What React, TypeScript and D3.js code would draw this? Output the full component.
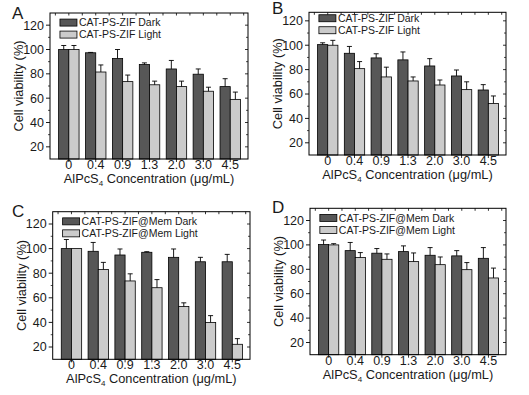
import React from "react";
import * as d3 from "d3";

const CATEGORIES = ["0", "0.4", "0.9", "1.3", "2.0", "3.0", "4.5"];
const Y_TICKS = [20, 40, 60, 80, 100, 120];
const Y_MINOR = [30, 50, 70, 90, 110];

const SERIES_AB = ["CAT-PS-ZIF Dark", "CAT-PS-ZIF Light"];
const SERIES_CD = ["CAT-PS-ZIF@Mem Dark", "CAT-PS-ZIF@Mem Light"];

const A_DARK = [100, 97.3, 92.6, 87.6, 84, 79.7, 69.5];
const A_DARK_ERR = [3.3, 0.3, 7.4, 1.4, 7, 4.3, 6.5];
const A_LIGHT = [100, 81.5, 73.6, 71, 69.5, 65.7, 59];
const A_LIGHT_ERR = [3.3, 5.8, 5.4, 3, 4.5, 3.3, 6];

const B_DARK = [100.5, 93.4, 89.6, 88, 83, 74.8, 63.3];
const B_DARK_ERR = [1.5, 5.6, 3.4, 6.5, 6, 4.9, 4.4];
const B_LIGHT = [100, 80.8, 74, 70.7, 67.4, 63.6, 52.3];
const B_LIGHT_ERR = [4, 5.8, 8, 3.3, 4.1, 6.4, 6.1];

const C_DARK = [100, 97.8, 94.8, 97, 92.9, 89.3, 89.3];
const C_DARK_ERR = [7.4, 7.2, 4.9, 0.5, 6.8, 3.6, 6];
const C_LIGHT = [100, 83, 73.7, 68.2, 52.9, 40, 22.2];
const C_LIGHT_ERR = [0, 5.8, 5.8, 6.6, 3, 5.5, 4.6];

const D_DARK = [100.3, 95.3, 93.2, 94.5, 91.5, 91, 89];
const D_DARK_ERR = [3.7, 6.7, 3.8, 4.7, 6.3, 4.3, 8.8];
const D_LIGHT = [100, 89.6, 88.2, 86.3, 83.8, 79.7, 72.9];
const D_LIGHT_ERR = [1, 4.1, 4.4, 7.1, 6.3, 5.8, 8.1];

const PANELS = [
  { letter: "A", lx: 12, ly: 18.5, left: 50, right: 248, top: 13, bottom: 159, yMax: 130, names: SERIES_AB, dark: A_DARK, darkErr: A_DARK_ERR, light: A_LIGHT, lightErr: A_LIGHT_ERR },
  { letter: "B", lx: 272, ly: 14, left: 309, right: 506, top: 12.3, bottom: 155, yMax: 127, names: SERIES_AB, dark: B_DARK, darkErr: B_DARK_ERR, light: B_LIGHT, lightErr: B_LIGHT_ERR },
  { letter: "C", lx: 12, ly: 216.5, left: 52.7, right: 250, top: 211.7, bottom: 359.3, yMax: 130, names: SERIES_CD, dark: C_DARK, darkErr: C_DARK_ERR, light: C_LIGHT, lightErr: C_LIGHT_ERR },
  { letter: "D", lx: 272, ly: 212.5, left: 310, right: 506, top: 208.3, bottom: 354.7, yMax: 130, names: SERIES_CD, dark: D_DARK, darkErr: D_DARK_ERR, light: D_LIGHT, lightErr: D_LIGHT_ERR },
];

const DARK_FILL = "#575757";
const LIGHT_FILL = "#cbcbcb";
const FONT = "'Liberation Sans', Arial, sans-serif";
const TXT = "#1a1a1a";

function Panel({ p }: { p: any }) {
  const x = d3.scaleLinear().domain([-0.7, 6.66]).range([p.left, p.right]);
  const y = d3.scaleLinear().domain([10, p.yMax]).range([p.bottom, p.top]);
  const step = x(1) - x(0);
  const bw = step * 0.38;
  const idx = d3.range(CATEGORIES.length);
  const halfTicks = d3.range(-0.5, 6.6, 0.5);
  const cy = (p.top + p.bottom) / 2;
  const cx = (p.left + p.right) / 2;

  const bars = (vals: number[], errs: number[], fill: string, offset: number) =>
    idx.map((i) => {
      const x0 = x(i) + offset;
      const xc = x0 + bw / 2;
      const top = y(vals[i]);
      const et = y(vals[i] + errs[i]);
      return (
        <g key={fill + i}>
          <rect x={x0} y={top} width={bw} height={p.bottom - top} fill={fill} stroke="#000" strokeWidth={0.8} />
          {errs[i] > 0 && (
            <g stroke="#000" strokeWidth={0.9}>
              <line x1={xc} x2={xc} y1={top} y2={et} />
              <line x1={xc - 2.5} x2={xc + 2.5} y1={et} y2={et} />
            </g>
          )}
        </g>
      );
    });

  const lgX = x(-0.33);
  const lgY = y(125);

  return (
    <g>
      <text x={p.lx} y={p.ly} fontSize={17} fontFamily={FONT} fill={TXT}>{p.letter}</text>
      {bars(p.dark, p.darkErr, DARK_FILL, -bw)}
      {bars(p.light, p.lightErr, LIGHT_FILL, 0)}
      <rect x={p.left} y={p.top} width={p.right - p.left} height={p.bottom - p.top} fill="none" stroke="#000" strokeWidth={1} />
      {Y_TICKS.map((t) => (
        <g key={"yt" + t}>
          <line x1={p.left - 4} x2={p.left} y1={y(t)} y2={y(t)} stroke="#000" strokeWidth={0.9} />
          <line x1={p.right - 3} x2={p.right} y1={y(t)} y2={y(t)} stroke="#000" strokeWidth={0.8} />
          <text x={p.left - 6} y={y(t)} dy="0.35em" textAnchor="end" fontSize={12.5} fontFamily={FONT} fill={TXT}>{t}</text>
        </g>
      ))}
      {Y_MINOR.map((t) => (
        <g key={"ym" + t}>
          <line x1={p.left - 2} x2={p.left} y1={y(t)} y2={y(t)} stroke="#000" strokeWidth={0.7} />
          <line x1={p.right - 2} x2={p.right} y1={y(t)} y2={y(t)} stroke="#000" strokeWidth={0.7} />
        </g>
      ))}
      {halfTicks.map((t) => (
        <line key={"xt" + t} x1={x(t)} x2={x(t)} y1={p.top} y2={p.top + 2.5} stroke="#000" strokeWidth={0.8} />
      ))}
      {idx.map((i) => (
        <g key={"xl" + i}>
          <line x1={x(i)} x2={x(i)} y1={p.bottom} y2={p.bottom + 3} stroke="#000" strokeWidth={0.8} />
          <text x={x(i)} y={p.bottom + 10} textAnchor="middle" fontSize={12.5} fontFamily={FONT} fill={TXT}>{CATEGORIES[i]}</text>
        </g>
      ))}
      <text x={cx} y={p.bottom + 24} textAnchor="middle" fontSize={12.8} fontFamily={FONT} fill={TXT}>
        AlPcS<tspan fontSize={8} dy={3}>4</tspan><tspan dy={-3}> Concentration (μg/mL)</tspan>
      </text>
      <text transform={`translate(${p.left - 27},${cy}) rotate(-90)`} textAnchor="middle" fontSize={12.8} fontFamily={FONT} fill={TXT}>
        Cell viability (%)
      </text>
      {[DARK_FILL, LIGHT_FILL].map((f, k) => (
        <g key={"lg" + k}>
          <rect x={lgX} y={lgY + k * 12} width={17} height={7} fill={f} stroke="#000" strokeWidth={0.8} />
          <text x={lgX + 19} y={lgY + k * 12 + 3.5} dy="0.35em" fontSize={10.5} fontFamily={FONT} fill={TXT}>{p.names[k]}</text>
        </g>
      ))}
    </g>
  );
}

export default function App() {
  return (
    <svg width={529} height={395} style={{ position: "absolute", left: 0, top: 0, background: "#fff" }}>
      <rect x={0} y={0} width={529} height={395} fill="#fff" />
      {PANELS.map((p) => (
        <Panel key={p.letter} p={p} />
      ))}
    </svg>
  );
}
